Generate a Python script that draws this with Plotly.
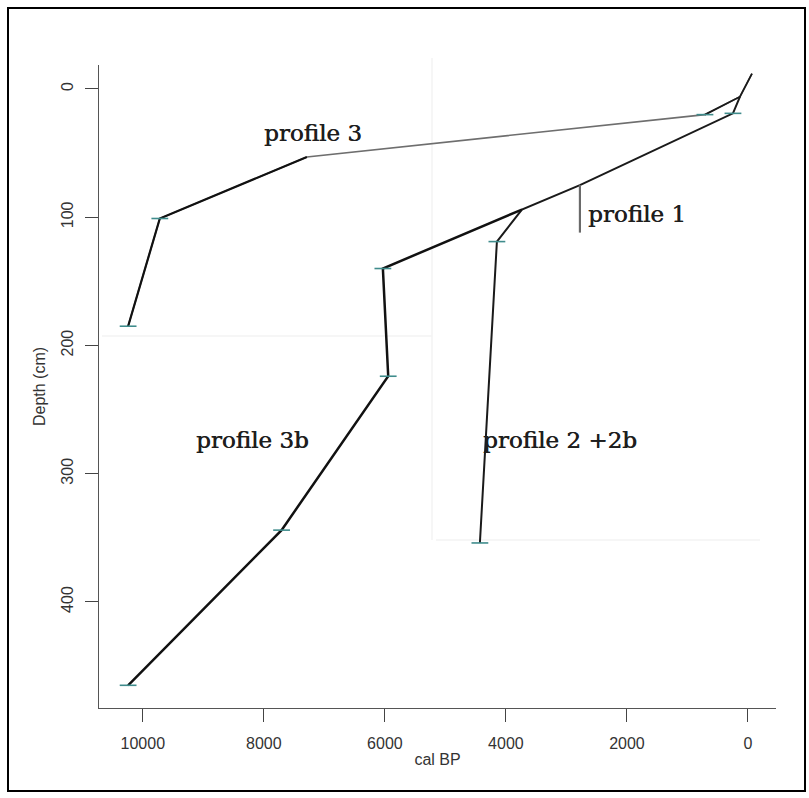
import plotly.graph_objects as go

# Calibrated age-depth profiles (cal BP vs depth in cm)
profile3_age = [-66, 132, 711, 7289, 9719, 10243]
profile3_depth = [-12, 6, 20, 53, 101, 185]

profile2_age = [132, 248, 2777, 3736, 4149, 4430]
profile2_depth = [6, 19, 75, 94, 119, 354]

profile1_age = [2777, 2777]
profile1_depth = [75, 112]

profile3b_age = [3736, 6033, 5945, 7707, 10243]
profile3b_depth = [94, 140, 224, 344, 465]

# Dated levels marked with small horizontal ticks
dated_age = [711, 9719, 10243, 248, 4149, 4430, 6033, 5945, 7707, 10243]
dated_depth = [20, 101, 185, 19, 119, 354, 140, 224, 344, 465]

x_ticks = [10000, 8000, 6000, 4000, 2000, 0]
y_ticks = [0, 100, 200, 300, 400]

labels = ["profile 3", "profile 1", "profile 3b", "profile 2 +2b"]
label_age = [7190, 1835, 8182, 3107]
label_depth = [34, 97.5, 274, 274]

AXIS_FONT = "Liberation Sans, Arial, sans-serif"

fig = go.Figure()

fig.add_trace(go.Scatter(x=profile3_age, y=profile3_depth, mode="lines",
                         line=dict(color="#6e6e6e", width=1.6), hoverinfo="skip"))
fig.add_trace(go.Scatter(x=profile3_age[:3], y=profile3_depth[:3], mode="lines",
                         line=dict(color="#1a1a1a", width=1.8), hoverinfo="skip"))
fig.add_trace(go.Scatter(x=profile3_age[3:], y=profile3_depth[3:], mode="lines",
                         line=dict(color="#111111", width=2.2), hoverinfo="skip"))
fig.add_trace(go.Scatter(x=profile2_age, y=profile2_depth, mode="lines",
                         line=dict(color="#1a1a1a", width=2), hoverinfo="skip"))
fig.add_trace(go.Scatter(x=profile1_age, y=profile1_depth, mode="lines",
                         line=dict(color="#6a6a6a", width=2.2), hoverinfo="skip"))
fig.add_trace(go.Scatter(x=profile3b_age, y=profile3b_depth, mode="lines",
                         line=dict(color="#111111", width=2.5), hoverinfo="skip"))
fig.add_trace(go.Scatter(x=dated_age, y=dated_depth, mode="markers",
                         marker=dict(symbol="line-ew", size=12,
                                     line=dict(color="#3f8c8c", width=1.6)),
                         hoverinfo="skip"))

for txt, a, d in zip(labels, label_age, label_depth):
    fig.add_annotation(x=a, y=d, xref="x", yref="y", text=txt, showarrow=False,
                       font=dict(family="DejaVu Serif", size=23, color="#1e1e1e",
                                 shadow="0.6px 0px 0px #1e1e1e"))

# faint leftover frame lines from underlying panels, plus the outer border
PW, PH = 677, 643


def px_x(p):
    return (p - 99) / PW


def px_y(p):
    return 1 - (p - 65) / PH


faint = dict(color="#f3f3f3", width=1.5)
shapes = [
    dict(type="line", xref="paper", yref="paper", x0=px_x(432), x1=px_x(432),
         y0=px_y(58), y1=px_y(540), line=faint, layer="below"),
    dict(type="line", xref="paper", yref="paper", x0=px_x(102), x1=px_x(432),
         y0=px_y(336), y1=px_y(336), line=faint, layer="below"),
    dict(type="line", xref="paper", yref="paper", x0=px_x(436), x1=px_x(760),
         y0=px_y(540), y1=px_y(540), line=faint, layer="below"),
    dict(type="rect", xref="paper", yref="paper",
         x0=px_x(8), x1=px_x(805), y0=px_y(791), y1=px_y(8),
         line=dict(color="black", width=2)),
]

fig.update_layout(
    width=809, height=798,
    margin=dict(l=99, r=33, t=65, b=90),
    paper_bgcolor="white", plot_bgcolor="white",
    showlegend=False,
    font=dict(family=AXIS_FONT, size=16, color="#333333"),
    shapes=shapes,
)

fig.update_xaxes(
    range=[10724, -463], tickvals=x_ticks, ticktext=[str(v) for v in x_ticks],
    showgrid=False, zeroline=False, showline=True, linecolor="#555555", linewidth=1,
    ticks="outside", ticklen=13, tickcolor="#444444", ticklabelstandoff=8,
    tickfont=dict(family=AXIS_FONT, size=16, color="#333333"),
    title=dict(text="cal BP", standoff=2, font=dict(family=AXIS_FONT, size=16, color="#333333")),
)
fig.update_yaxes(
    range=[482.7, -18.7], tickvals=y_ticks, ticktext=[str(v) for v in y_ticks],
    tickangle=-90,
    showgrid=False, zeroline=False, showline=True, linecolor="#555555", linewidth=1,
    ticks="outside", ticklen=13, tickcolor="#444444", ticklabelstandoff=6,
    tickfont=dict(family=AXIS_FONT, size=16, color="#333333"),
    title=dict(text="Depth (cm)", standoff=8, font=dict(family=AXIS_FONT, size=16, color="#333333")),
)

fig.write_html("out.html")
